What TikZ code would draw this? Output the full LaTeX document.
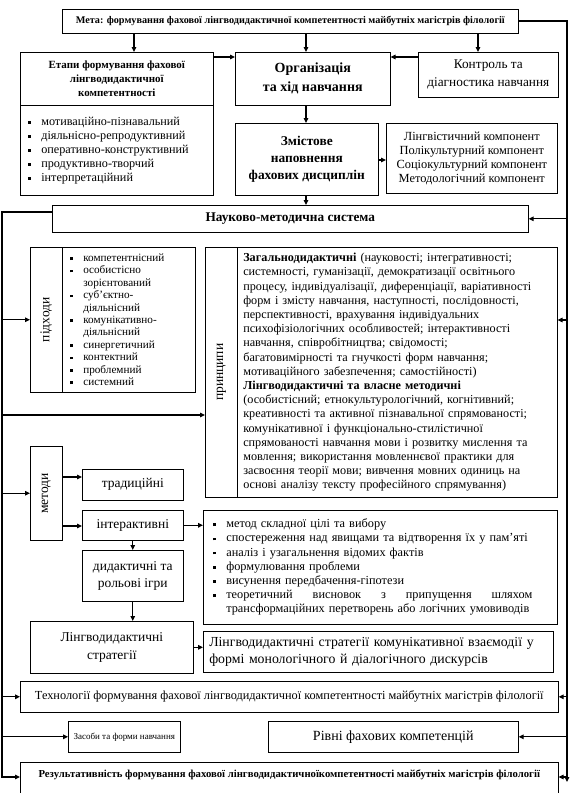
\documentclass[tikz,border=0pt]{standalone}
\usepackage{fontspec}
\setmainfont{Liberation Serif}
\usetikzlibrary{arrows.meta}
\newcommand{\bl}{\makebox[13pt][l]{\rule[0.3ex]{2.4pt}{2.6pt}}}
\newcommand{\bk}{\hspace*{13pt}}

\begin{document}
\begin{tikzpicture}[x=1pt,y=-1pt]
    \tikzset{box/.style={draw,line width=0.6pt,anchor=north west,inner sep=2pt,align=center},
        list/.style={box,align=left,inner xsep=8pt},
        side/.style={box,font=\fontsize{13.5}{15}\selectfont},
        arr/.style={line width=1.2pt,-{Triangle[length=5pt,width=4.5pt]}},
        bus/.style={line width=1.4pt}}
    \useasboundingbox (0,0) rectangle (574,793);
    \node[box,minimum width=456pt,minimum height=24pt,font=\fontsize{10.2}{12}\selectfont\bfseries] (meta) at (62,9)
        {Мета: формування фахової лінгводидактичної компетентності майбутніх магістрів філології};
    \node[box,minimum width=193pt,minimum height=53pt,font=\fontsize{11}{14}\selectfont\bfseries] (etapyH) at (20,52)
        {Етапи формування фахової\\лінгводидактичної\\компетентності};
    \node[list,text width=177pt,minimum height=90pt,font=\fontsize{12.2}{14}\selectfont] (etapyL) at (20,105)
        {\bl мотиваційно-пізнавальний\\\bl діяльнісно-репродуктивний\\\bl оперативно-конструктивний\\
         \bl продуктивно-творчий\\\bl інтерпретаційний};
    \node[box,minimum width=155pt,minimum height=53pt,font=\fontsize{14}{19}\selectfont\bfseries] (org) at (235,52)
        {Організація\\та хід навчання};
    \node[box,minimum width=140pt,minimum height=45pt,font=\fontsize{13.3}{18}\selectfont] (kontrol) at (418,52)
        {Контроль та\\діагностика навчання};
    \node[box,minimum width=143pt,minimum height=72pt,font=\fontsize{13.4}{17}\selectfont\bfseries] (zmist) at (235,123)
        {Змістове\\наповнення\\фахових дисциплін};
    \node[box,minimum width=171pt,minimum height=70pt,font=\fontsize{12.4}{13.8}\selectfont] (comp) at (386,123)
        {Лінгвістичний компонент\\Полікультурний компонент\\Соціокультурний компонент\\Методологічний компонент};
    \node[box,minimum width=476pt,minimum height=27pt,font=\fontsize{13.3}{15}\selectfont\bfseries] (nms) at (52,205)
        {Науково-методична система};
    \node[side,minimum width=32pt,minimum height=145pt] (pidhodyL) at (30,247) {\rotatebox{90}{підходи}};
    \node[list,text width=117pt,minimum height=145pt,font=\fontsize{11.2}{12.4}\selectfont] (pidhody) at (62,247)
        {\bl компетентнісний\\\bl особистісно\\\bk зорієнтований\\\bl суб'єктно-\\\bk діяльнісний\\
         \bl комунікативно-\\\bk діяльнісний\\\bl синергетичний\\\bl контектний\\\bl проблемний\\\bl системний};
    \node[side,minimum width=32pt,minimum height=250pt] (pryntsL) at (205,247) {\rotatebox{90}{принципи}};
    \node[list,inner xsep=6pt,text width=308pt,minimum height=250pt,font=\fontsize{12.2}{14.2}\selectfont] (prynts) at (237,247)
        {\textbf{Загальнодидактичні} (науковості; інтегративності;\\
         системності, гуманізації, демократизації освітнього\\
         процесу, індивідуалізації, диференціації, варіативності\\
         форм і змісту навчання, наступності, послідовності,\\
         перспективності, врахування індивідуальних\\
         психофізіологічних особливостей; інтерактивності\\
         навчання, співробітництва; свідомості;\\
         багатовимірності та гнучкості форм навчання;\\
         мотиваційного забезпечення; самостійності)\\
         \textbf{Лінгводидактичні та власне методичні}\\
         (особистісний; етнокультурологічний, когнітивний;\\
         креативності та активної пізнавальної спрямованості;\\
         комунікативної і функціонально-стилістичної\\
         спрямованості навчання мови і розвитку мислення та\\
         мовлення; використання мовленнєвої практики для\\
         засвоєння теорії мови; вивчення мовних одиниць на\\
         основі аналізу тексту професійного спрямування)};
    \node[side,minimum width=32pt,minimum height=94pt] (metody) at (30,446) {\rotatebox{90}{методи}};
    \node[side,minimum width=101pt,minimum height=31pt] (trad) at (82,469) {традиційні};
    \node[side,minimum width=101pt,minimum height=30pt] (inter) at (82,510) {інтерактивні};
    \node[side,minimum width=101pt,minimum height=51pt,font=\fontsize{13.5}{17}\selectfont] (ihry) at (82,550)
        {дидактичні та\\рольові ігри};
    \node[box,minimum width=163pt,minimum height=52pt,font=\fontsize{13.5}{18}\selectfont] (strat) at (30,621)
        {Лінгводидактичні\\стратегії};
    \node[list,inner xsep=10pt,text width=334pt,minimum height=114pt,font=\fontsize{12.3}{14.2}\selectfont] (mlist) at (203,510)
        {\bl метод складної цілі та вибору\\\bl спостереження над явищами та відтворення їх у пам'яті\\
         \bl аналіз і узагальнення відомих фактів\\\bl формулювання проблеми\\\bl висунення передбачення-гіпотези\\
         \bl\hbox to 306pt{теоретичний\hfill висновок\hfill з\hfill припущення\hfill шляхом}\\
         \bk трансформаційних перетворень або логічних умовиводів};
    \node[list,inner xsep=6pt,text width=338pt,minimum height=41pt,font=\fontsize{13.8}{17}\selectfont] (komun) at (203,631)
        {Лінгводидактичні стратегії комунікативної взаємодії у\\формі монологічного й діалогічного дискурсів};
    \node[box,minimum width=538pt,minimum height=31pt,font=\fontsize{12.3}{14}\selectfont] (tech) at (20,681)
        {Технології формування фахової лінгводидактичної компетентності майбутніх магістрів філології};
    \node[box,minimum width=112pt,minimum height=31pt,font=\fontsize{9}{11}\selectfont] (zasoby) at (68,721)
        {Засоби та форми навчання};
    \node[box,minimum width=250pt,minimum height=31pt,font=\fontsize{14}{15}\selectfont] (rivni) at (268,721)
        {Рівні фахових компетенцій};
    \node[box,minimum width=538pt,minimum height=40pt,text depth=18pt,font=\fontsize{10.7}{12}\selectfont\bfseries] (result) at (20,762)
        {Результативність формування фахової лінгводидактичноїкомпетентності майбутніх магістрів філології};
    \coordinate (rb) at (567,21);
    \coordinate (lb) at (2,212);
    \draw[arr] (134,0 |- meta.south) -- (134,0 |- etapyH.north);
    \draw[arr] (306,0 |- meta.south) -- (306,0 |- org.north);
    \draw[arr] (478,0 |- meta.south) -- (478,0 |- kontrol.north);
    \draw[arr] (etapyH.east |- 0,57) -- (org.west |- 0,57);
    \draw[arr] (kontrol.west |- 0,57) -- (org.east |- 0,57);
    \draw[arr] (306,0 |- org.south) -- (306,0 |- zmist.north);
    \draw[arr] (zmist.east |- 0,160) -- (comp.west |- 0,160);
    \draw[arr] (306,0 |- zmist.south) -- (306,0 |- nms.north);
    \draw[arr] (meta.east |- rb) -- (rb) -- (rb |- 0,782);
    \draw[arr] (rb |- nms.east) -- (nms.east);
    \draw[arr] (rb |- 0,320) -- (prynts.east |- 0,320);
    \draw[arr] (rb |- tech.east) -- (tech.east);
    \draw[arr] (rb |- rivni.east) -- (rivni.east);
    \draw[arr] (rb |- 0,777) -- (result.east |- 0,777);
    \draw[arr] (nms.west |- lb) -- (lb) -- (lb |- 0,777) -- (result.west |- 0,777);
    \draw[arr] (lb |- pidhodyL.west) -- (pidhodyL.west);
    \draw[arr] (lb |- 0,415) -- (pryntsL.west |- 0,415);
    \draw[arr] (lb |- metody.west) -- (metody.west);
    \draw[arr] (lb |- tech.west) -- (tech.west);
    \draw[arr] (lb |- zasoby.west) -- (zasoby.west);
    \draw[arr] (metody.east |- 0,477) -- (trad.west |- 0,477);
    \draw[arr] (metody.east |- 0,526) -- (inter.west |- 0,526);
    \draw[arr] (inter.east) -- (mlist.west |- inter.east);
    \draw[arr] (inter.south) -- (ihry.north);
    \draw[arr] (ihry.south) -- (ihry.south |- strat.north);
    \draw[arr] (strat.east) -- (komun.west |- strat.east);
\end{tikzpicture}
\end{document}
